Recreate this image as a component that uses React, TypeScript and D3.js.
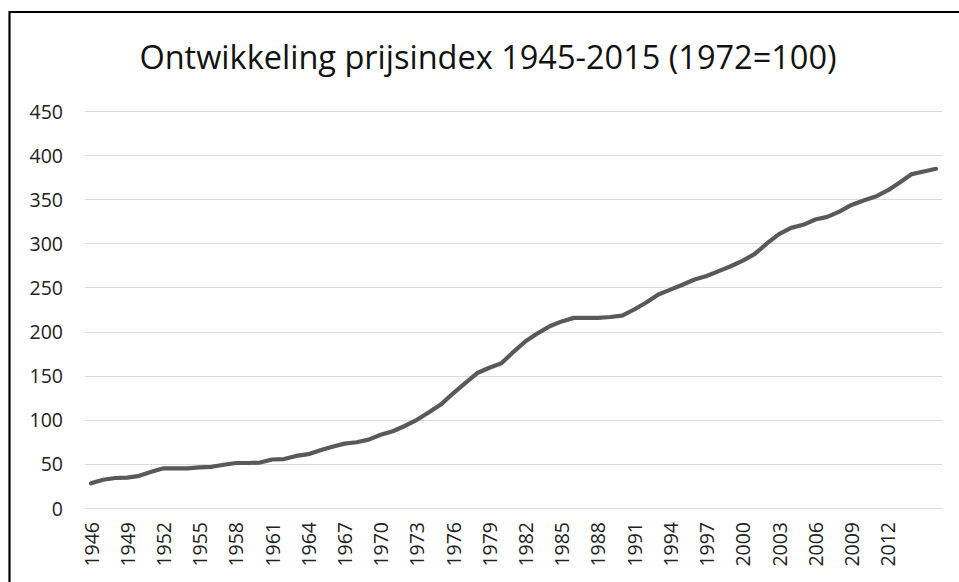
import React, { useEffect } from "react";
import * as d3 from "d3";

const years: string[] = d3.range(1946, 2017).map((y) => String(y));
const priceIndex: number[] = [
  28, 32, 34, 34.5, 36.5, 41, 45, 45, 45, 46,
  46.7, 49, 51, 51, 51.5, 55, 55.5, 59, 61, 65.5,
  69.5, 73, 74.5, 77.5, 83, 87, 93, 100, 108.5, 117.5,
  130, 141.5, 153, 159, 164, 177, 189, 198, 206, 211.5,
  215.5, 215.5, 215.5, 216.5, 218, 225, 233, 242, 247.5, 253,
  259, 263, 268.5, 274, 280.5, 288, 300, 310.5, 317.5, 321,
  327, 330, 336, 343.5, 348.5, 353, 360, 369, 378.5, 381.5,
  384.5,
];
const xTickLabels: string[] = [
  "1946", "1949", "1952", "1955", "1958", "1961", "1964", "1967", "1970",
  "1973", "1976", "1979", "1982", "1985", "1988", "1991", "1994", "1997",
  "2000", "2003", "2006", "2009", "2012",
];
const yTicks: number[] = [0, 50, 100, 150, 200, 250, 300, 350, 400, 450];
const title = "Ontwikkeling prijsindex 1945-2015 (1972=100)";

const W = 959;
const H = 582;
const FONT = "'Open Sans', 'Noto Sans', sans-serif";

export default function App() {
  useEffect(() => {
    document.body.style.margin = "0";
    document.body.style.overflow = "hidden";
  }, []);

  const x = d3.scalePoint<string>().domain(years).range([85, 942]).padding(0.5);
  const y = d3.scaleLinear().domain([0, 450]).range([508, 111]);

  const line = d3
    .line<number>()
    .x((_, i) => x(years[i]) as number)
    .y((d) => y(d));

  return (
    <svg width={W} height={H} style={{ display: "block", background: "#fff" }}>
      <rect x={0} y={0} width={W} height={H} fill="#fff" />
      {/* frame */}
      <line x1={9} y1={12} x2={W} y2={12} stroke="#000" strokeWidth={2.2} />
      <line x1={9.5} y1={11} x2={9.5} y2={H} stroke="#000" strokeWidth={2.2} />

      <text
        x={488}
        y={69}
        textAnchor="middle"
        fontFamily={FONT}
        fontSize={32.5}
        fill="#111"
      >
        {title}
      </text>

      {yTicks.map((t) => (
        <g key={t}>
          <line x1={85} x2={942} y1={Math.round(y(t)) + 0.5} y2={Math.round(y(t)) + 0.5} stroke="#d9d9d9" strokeWidth={1} />
          <text
            x={63}
            y={y(t)}
            textAnchor="end"
            dominantBaseline="central"
            fontFamily={FONT}
            fontSize={19.5}
            fill="#222"
          >
            {t}
          </text>
        </g>
      ))}

      {xTickLabels.map((lab) => (
        <text
          key={lab}
          transform={`translate(${x(lab)},522) rotate(-90)`}
          textAnchor="end"
          dominantBaseline="central"
          fontFamily={FONT}
          fontSize={19.5}
          fill="#222"
        >
          {lab}
        </text>
      ))}

      <path
        d={line(priceIndex) || ""}
        fill="none"
        stroke="#595959"
        strokeWidth={4.2}
        strokeLinejoin="round"
        strokeLinecap="round"
      />
    </svg>
  );
}
